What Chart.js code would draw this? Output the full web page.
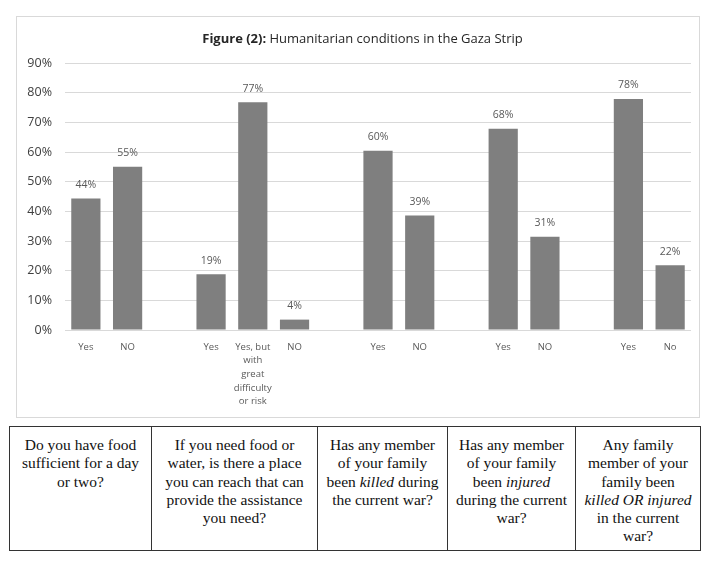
<!DOCTYPE html>
<html>
<head>
<meta charset="utf-8">
<script src="https://cdn.jsdelivr.net/npm/chart.js@4/dist/chart.umd.min.js"></script>
<style>
  html, body { margin: 0; padding: 0; background: #ffffff; }
  body { width: 707px; height: 562px; position: relative; overflow: hidden; }
  #frame { position: absolute; left: 16px; top: 16px; width: 682px; height: 400px; border: 1px solid #d9d9d9; }
  #c { position: absolute; left: 0; top: 0; }
  table.q { position: absolute; left: 9px; top: 426px; border-collapse: collapse; font-family: "Liberation Serif", "Times New Roman", serif; font-size: 15.5px; line-height: 18.3px; color: #111; }
  table.q td { border: 1px solid #333; text-align: center; vertical-align: top; padding: 9px 0 0 0; height: 124px; white-space: nowrap; box-sizing: border-box; }
</style>
</head>
<body>
<div id="frame"><canvas id="c" width="682" height="400"></canvas></div>
<table class="q">
  <tr>
    <td style="width:142px">Do you have food<br>sufficient for a day<br>or two?</td>
    <td style="width:166px">If you need food or<br>water, is there a place<br>you can reach that can<br>provide the assistance<br>you need?</td>
    <td style="width:130px">Has any member<br>of your family<br>been <i>killed</i> during<br>the current war?</td>
    <td style="width:128px">Has any member<br>of your family<br>been <i>injured</i><br>during the current<br>war?</td>
    <td style="width:125px">Any family<br>member of your<br>family been<br><i>killed OR injured</i><br>in the current<br>war?</td>
  </tr>
</table>
<script>
// ---- data ----
const categories = [
  'Yes', 'NO', '',
  'Yes', ['Yes, but', 'with', 'great', 'difficulty', 'or risk'], 'NO', '',
  'Yes', 'NO', '',
  'Yes', 'NO', '',
  'Yes', 'No'
];
const values = [
  44.3, 55.0, null,
  18.8, 76.8, 3.5, null,
  60.4, 38.6, null,
  67.8, 31.4, null,
  77.9, 21.8
];
const valueLabels = [
  '44%', '55%', '',
  '19%', '77%', '4%', '',
  '60%', '39%', '',
  '68%', '31%', '',
  '78%', '22%'
];
const yTicks = [0, 10, 20, 30, 40, 50, 60, 70, 80, 90];
const titleBold = 'Figure (2):';
const titleRest = ' Humanitarian conditions in the Gaza Strip';

const FONT = '"Open Sans", "DejaVu Sans", sans-serif';

const titlePlugin = {
  id: 'mixedTitle',
  afterDraw(chart) {
    const ctx = chart.ctx;
    ctx.save();
    ctx.textBaseline = 'middle';
    ctx.fillStyle = '#262626';
    ctx.font = 'bold 13px ' + FONT;
    const wb = ctx.measureText(titleBold).width;
    ctx.font = '13px ' + FONT;
    const wr = ctx.measureText(titleRest).width;
    const cx = 345.5, cy = 22;
    let x = cx - (wb + wr) / 2;
    ctx.textAlign = 'left';
    ctx.font = 'bold 13px ' + FONT;
    ctx.fillText(titleBold, x, cy);
    ctx.font = '13px ' + FONT;
    ctx.fillText(titleRest, x + wb, cy);
    ctx.restore();
  }
};

const labelPlugin = {
  id: 'barLabels',
  afterDatasetsDraw(chart) {
    const ctx = chart.ctx;
    const meta = chart.getDatasetMeta(0);
    ctx.save();
    ctx.font = '10.5px ' + FONT;
    ctx.fillStyle = '#595959';
    ctx.textAlign = 'center';
    ctx.textBaseline = 'middle';
    meta.data.forEach((bar, i) => {
      if (values[i] === null) return;
      ctx.fillText(valueLabels[i], bar.x, bar.y - 13.5);
    });
    ctx.restore();
  }
};

new Chart(document.getElementById('c'), {
  type: 'bar',
  data: {
    labels: categories,
    datasets: [{
      data: values,
      backgroundColor: '#7f7f7f',
      borderWidth: 0,
      barPercentage: 0.7,
      categoryPercentage: 1.0
    }]
  },
  options: {
    responsive: false,
    animation: false,
    devicePixelRatio: 1,
    layout: { padding: { top: 46, right: 8, left: 0, bottom: 0 } },
    plugins: { legend: { display: false }, tooltip: { enabled: false }, title: { display: false } },
    scales: {
      x: {
        grid: { display: false },
        border: { display: false },
        ticks: {
          color: '#595959',
          font: { family: FONT, size: 9.5, lineHeight: 1.44 },
          padding: 2,
          maxRotation: 0,
          autoSkip: false
        },
        afterFit(scale) { scale.height = 87; }
      },
      y: {
        min: 0, max: 90,
        afterBuildTicks(scale) { scale.ticks = yTicks.map(v => ({ value: v })); },
        grid: { color: '#d9d9d9', lineWidth: 1, drawTicks: false },
        border: { display: false },
        ticks: {
          color: '#404040',
          font: { family: FONT, size: 12.5 },
          padding: 13,
          callback: v => v + '%'
        },
        afterFit(scale) { scale.width = 48; }
      }
    }
  },
  plugins: [titlePlugin, labelPlugin]
});
</script>
</body>
</html>
